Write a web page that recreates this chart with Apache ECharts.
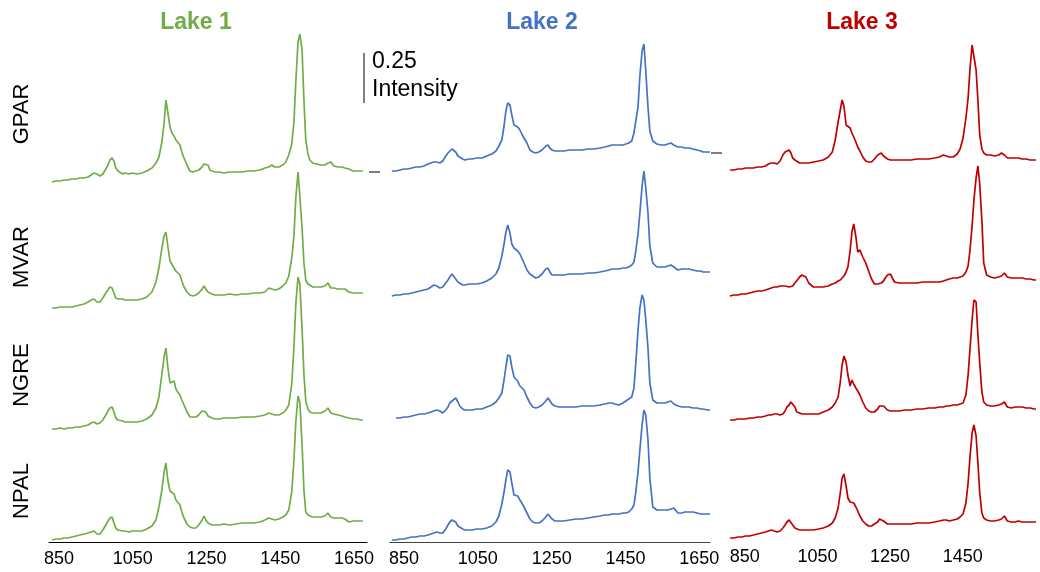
<!DOCTYPE html>
<html><head><meta charset="utf-8">
<script src="https://cdn.jsdelivr.net/npm/echarts@6/dist/echarts.min.js"></script>
<style>html,body{margin:0;padding:0;background:#fff}#c{width:1040px;height:572px}</style>
</head><body><div id="c"></div>
<script>
// ---------------- DATA ----------------
const lakes = ['Lake 1', 'Lake 2', 'Lake 3'];
const species = ['GPAR', 'MVAR', 'NGRE', 'NPAL'];
const xTickLabels = [[850, 1050, 1250, 1450, 1650], [850, 1050, 1250, 1450, 1650], [850, 1050, 1250, 1450]];
const scaleBarValue = 0.25;
const scaleBarText = ['0.25', 'Intensity'];

const wavenumberLake1 = [831,842,853,864,874,885,896,907,918,929,
 937,945,953,961,969,977,983,988,994,999,
 1004,1010,1015,1023,1029,1034,1040,1048,1061,1075,
 1088,1102,1113,1121,1129,1135,1140,1145,1151,1156,
 1162,1167,1172,1178,1183,1189,1197,1205,1213,1221,
 1229,1238,1243,1248,1254,1259,1265,1273,1284,1297,
 1313,1330,1346,1362,1378,1395,1408,1419,1427,1435,
 1446,1457,1465,1473,1481,1487,1492,1498,1503,1509,
 1514,1519,1525,1530,1538,1549,1560,1571,1579,1587,
 1595,1606,1617,1625,1636,1647,1658,1668,1674];
const wavenumberLake2 = [817,828,839,850,860,871,882,893,904,915,
 923,931,939,947,955,963,969,974,980,985,
 990,996,1001,1009,1015,1020,1026,1034,1047,1061,
 1074,1088,1099,1107,1115,1121,1126,1131,1137,1142,
 1148,1153,1158,1164,1169,1175,1183,1191,1199,1207,
 1215,1224,1229,1234,1240,1245,1251,1259,1270,1283,
 1299,1316,1332,1348,1364,1381,1394,1405,1413,1421,
 1432,1443,1451,1459,1467,1473,1478,1484,1489,1495,
 1500,1505,1511,1516,1524,1535,1546,1557,1565,1573,
 1581,1592,1603,1611,1622,1633,1644,1654,1660,
 1665,1673,1679];
const wavenumberLake3 = [809,820,831,842,852,863,874,885,896,907,
 915,923,931,939,947,955,961,966,972,977,
 982,988,993,1001,1007,1012,1018,1026,1039,1053,
 1066,1080,1091,1099,1107,1113,1118,1123,1129,1134,
 1140,1145,1150,1156,1161,1167,1175,1183,1191,1199,
 1207,1216,1221,1226,1232,1237,1243,1251,1262,1275,
 1291,1308,1324,1340,1356,1373,1386,1397,1405,1413,
 1424,1435,1443,1451,1459,1465,1470,1476,1481,1487,
 1492,1497,1503,1508,1516,1527,1538,1549,1557,1565,
 1573,1584,1595,1603,1614,1625,1636,1646,1652];

// Lake 1
const lake1GPAR = [0,0.005,0.005,0.01,0.01,0.015,0.015,0.02,0.02,0.025,
 0.035,0.045,0.04,0.03,0.04,0.065,0.085,0.11,0.12,0.105,
 0.07,0.055,0.045,0.04,0.045,0.04,0.04,0.045,0.04,0.045,
 0.055,0.07,0.095,0.125,0.2,0.295,0.41,0.42,0.275,0.245,
 0.23,0.21,0.2,0.185,0.15,0.12,0.085,0.055,0.05,0.055,
 0.06,0.075,0.09,0.1,0.085,0.06,0.055,0.05,0.05,0.045,
 0.05,0.05,0.05,0.055,0.055,0.06,0.07,0.075,0.085,0.075,
 0.075,0.085,0.1,0.135,0.19,0.3,0.5,0.7,0.74,0.66,
 0.41,0.21,0.14,0.11,0.095,0.09,0.085,0.085,0.095,0.1,
 0.08,0.075,0.075,0.07,0.065,0.055,0.055,0.055,0.055];
const lake1MVAR = [0,0,0.005,0.005,0.005,0.005,0.01,0.015,0.02,0.03,
 0.04,0.045,0.03,0.03,0.05,0.075,0.09,0.105,0.1,0.075,
 0.05,0.045,0.045,0.045,0.04,0.045,0.04,0.04,0.04,0.045,
 0.055,0.08,0.13,0.2,0.3,0.36,0.38,0.31,0.235,0.23,
 0.2,0.185,0.175,0.165,0.135,0.105,0.08,0.065,0.06,0.065,
 0.075,0.095,0.11,0.095,0.08,0.075,0.07,0.065,0.065,0.065,
 0.07,0.065,0.07,0.07,0.075,0.075,0.08,0.1,0.095,0.09,
 0.095,0.11,0.125,0.16,0.25,0.36,0.55,0.68,0.56,0.4,
 0.225,0.14,0.12,0.11,0.105,0.105,0.105,0.11,0.125,0.1,
 0.1,0.095,0.095,0.095,0.08,0.075,0.075,0.075,0.075];
const lake1NGRE = [0,0,0.005,0,0.005,0.005,0.01,0.01,0.015,0.02,
 0.03,0.035,0.025,0.03,0.045,0.07,0.09,0.105,0.11,0.085,
 0.055,0.045,0.04,0.04,0.035,0.035,0.035,0.035,0.035,0.04,
 0.05,0.07,0.105,0.16,0.275,0.36,0.405,0.31,0.23,0.24,
 0.24,0.2,0.185,0.17,0.145,0.12,0.085,0.06,0.06,0.06,
 0.07,0.09,0.1,0.085,0.065,0.06,0.055,0.05,0.05,0.055,
 0.055,0.055,0.06,0.06,0.06,0.065,0.07,0.08,0.075,0.07,
 0.07,0.08,0.095,0.12,0.225,0.41,0.625,0.76,0.725,0.5,
 0.275,0.14,0.1,0.085,0.08,0.08,0.08,0.09,0.105,0.08,
 0.075,0.07,0.065,0.06,0.055,0.05,0.05,0.045,0.045];
const lake1NPAL = [0,0.005,0.005,0.01,0.01,0.015,0.02,0.025,0.03,0.035,
 0.04,0.045,0.03,0.03,0.05,0.075,0.095,0.11,0.115,0.085,
 0.06,0.05,0.045,0.045,0.045,0.045,0.04,0.045,0.045,0.045,
 0.055,0.07,0.1,0.165,0.25,0.34,0.385,0.3,0.245,0.25,
 0.23,0.2,0.19,0.175,0.14,0.11,0.08,0.065,0.06,0.06,
 0.075,0.1,0.12,0.1,0.085,0.08,0.075,0.075,0.075,0.08,
 0.075,0.08,0.085,0.085,0.085,0.09,0.1,0.11,0.105,0.1,
 0.105,0.115,0.125,0.15,0.24,0.4,0.59,0.72,0.69,0.475,
 0.25,0.14,0.125,0.115,0.115,0.115,0.115,0.12,0.135,0.115,
 0.11,0.11,0.11,0.105,0.09,0.095,0.095,0.095,0.095];

// Lake 2
const lake2GPAR = [0,0,0.005,0.01,0.01,0.015,0.02,0.02,0.025,0.035,
 0.04,0.045,0.045,0.04,0.05,0.075,0.09,0.1,0.11,0.11,
 0.095,0.075,0.07,0.06,0.055,0.06,0.06,0.06,0.065,0.065,
 0.075,0.085,0.1,0.125,0.155,0.225,0.3,0.34,0.33,0.28,
 0.23,0.235,0.22,0.205,0.185,0.165,0.14,0.105,0.095,0.09,
 0.095,0.105,0.115,0.125,0.13,0.115,0.105,0.1,0.1,0.1,
 0.105,0.105,0.105,0.11,0.11,0.115,0.12,0.125,0.13,0.13,
 0.13,0.13,0.135,0.14,0.15,0.19,0.25,0.32,0.475,0.6,
 0.635,0.5,0.32,0.2,0.15,0.135,0.13,0.13,0.135,0.14,
 0.13,0.12,0.12,0.115,0.115,0.11,0.105,0.1,0.095,
 0.095,0.095,0.095];
const lake2MVAR = [0,0.005,0.005,0.01,0.01,0.015,0.02,0.025,0.03,0.035,
 0.045,0.055,0.05,0.04,0.045,0.065,0.08,0.095,0.11,0.11,
 0.085,0.07,0.065,0.055,0.055,0.055,0.06,0.06,0.06,0.065,
 0.075,0.09,0.11,0.14,0.2,0.26,0.32,0.355,0.315,0.26,
 0.24,0.245,0.225,0.21,0.19,0.165,0.13,0.11,0.1,0.09,
 0.095,0.11,0.12,0.135,0.14,0.12,0.105,0.105,0.105,0.105,
 0.11,0.11,0.11,0.115,0.115,0.12,0.125,0.13,0.135,0.135,
 0.135,0.14,0.14,0.145,0.155,0.17,0.225,0.31,0.415,0.55,
 0.625,0.54,0.415,0.25,0.165,0.145,0.145,0.145,0.15,0.155,
 0.145,0.13,0.135,0.135,0.135,0.13,0.125,0.125,0.12,
 0.12,0.12,0.12];
const lake2NGRE = [null,0,0,0.005,0.005,0.01,0.015,0.02,0.02,0.025,
 0.03,0.035,0.04,0.035,0.025,0.04,0.055,0.075,0.085,0.095,
 0.1,0.08,0.06,0.045,0.04,0.035,0.04,0.04,0.045,0.045,
 0.055,0.065,0.08,0.1,0.125,0.19,0.255,0.315,0.31,0.255,
 0.205,0.21,0.185,0.16,0.155,0.14,0.105,0.075,0.055,0.05,
 0.055,0.065,0.075,0.085,0.1,0.09,0.07,0.06,0.055,0.055,
 0.055,0.055,0.06,0.06,0.06,0.065,0.07,0.075,0.075,0.07,
 0.065,0.075,0.085,0.095,0.105,0.15,0.275,0.44,0.55,0.615,
 0.59,0.49,0.35,0.175,0.09,0.075,0.075,0.075,0.08,0.085,
 0.07,0.06,0.055,0.055,0.055,0.05,0.05,0.045,0.045,
 0.04,0.04,0.04];
const lake2NPAL = [0,0,0.005,0.005,0.01,0.015,0.015,0.02,0.02,0.025,
 0.03,0.035,0.04,0.035,0.035,0.055,0.075,0.09,0.1,0.11,
 0.09,0.07,0.06,0.055,0.05,0.05,0.05,0.05,0.055,0.055,
 0.06,0.07,0.09,0.12,0.18,0.24,0.3,0.35,0.34,0.285,
 0.225,0.23,0.22,0.2,0.185,0.165,0.135,0.105,0.09,0.085,
 0.085,0.095,0.105,0.115,0.13,0.12,0.105,0.095,0.095,0.095,
 0.1,0.105,0.105,0.11,0.115,0.12,0.125,0.125,0.13,0.13,
 0.13,0.135,0.135,0.14,0.155,0.175,0.24,0.34,0.45,0.575,
 0.65,0.625,0.5,0.31,0.165,0.15,0.15,0.15,0.15,0.155,
 0.16,0.135,0.135,0.14,0.14,0.14,0.135,0.13,0.13,
 0.13,0.13,0.13];

// Lake 3
const lake3GPAR = [0,0,0.005,0.005,0.01,0.01,0.01,0.015,0.015,0.02,
 0.03,0.035,0.035,0.03,0.045,0.075,0.09,0.1,0.1,0.085,
 0.06,0.05,0.04,0.035,0.035,0.035,0.035,0.035,0.04,0.045,
 0.05,0.065,0.09,0.15,0.24,0.3,0.35,0.32,0.225,0.215,
 0.21,0.185,0.165,0.14,0.115,0.095,0.065,0.045,0.04,0.04,
 0.055,0.075,0.085,0.085,0.07,0.06,0.055,0.05,0.05,0.05,
 0.05,0.05,0.055,0.055,0.055,0.06,0.065,0.075,0.07,0.065,
 0.065,0.08,0.105,0.16,0.26,0.36,0.5,0.625,0.63,0.5,
 0.35,0.175,0.105,0.085,0.075,0.075,0.07,0.075,0.085,0.075,
 0.06,0.06,0.06,0.06,0.055,0.055,0.05,0.05,0.05];
const lake3MVAR = [0,0.005,0.005,0.01,0.01,0.015,0.02,0.025,0.025,0.03,
 0.035,0.04,0.045,0.045,0.05,0.05,0.05,0.05,0.045,0.045,
 0.05,0.065,0.075,0.095,0.105,0.11,0.095,0.065,0.045,0.045,
 0.045,0.05,0.06,0.065,0.075,0.08,0.085,0.1,0.12,0.145,
 0.225,0.32,0.36,0.295,0.22,0.23,0.195,0.165,0.125,0.085,
 0.06,0.06,0.065,0.065,0.075,0.09,0.105,0.11,0.07,0.065,
 0.065,0.065,0.065,0.07,0.07,0.07,0.07,0.075,0.08,0.085,
 0.09,0.09,0.095,0.1,0.12,0.15,0.225,0.35,0.48,0.59,
 0.65,0.56,0.375,0.165,0.105,0.095,0.09,0.095,0.1,0.115,
 0.095,0.09,0.09,0.09,0.09,0.085,0.085,0.08,0.08];
const lake3NGRE = [0,0,0.005,0.005,0.005,0.01,0.01,0.015,0.015,0.02,
 0.025,0.025,0.03,0.03,0.025,0.03,0.045,0.065,0.075,0.09,
 0.09,0.065,0.04,0.035,0.03,0.03,0.03,0.03,0.03,0.03,
 0.04,0.05,0.065,0.085,0.115,0.19,0.275,0.32,0.29,0.225,
 0.17,0.2,0.18,0.16,0.145,0.125,0.09,0.06,0.045,0.04,
 0.04,0.055,0.07,0.08,0.07,0.06,0.05,0.045,0.045,0.045,
 0.05,0.05,0.055,0.055,0.06,0.06,0.065,0.065,0.07,0.07,
 0.075,0.075,0.08,0.085,0.125,0.225,0.35,0.5,0.6,0.59,
 0.425,0.285,0.14,0.09,0.075,0.07,0.07,0.075,0.08,0.09,
 0.065,0.06,0.065,0.065,0.065,0.06,0.06,0.055,0.055];
const lake3NPAL = [0,0,0.005,0.005,0.01,0.01,0.015,0.02,0.025,0.03,
 0.035,0.04,0.035,0.03,0.035,0.05,0.065,0.08,0.09,0.085,
 0.065,0.05,0.04,0.04,0.04,0.04,0.04,0.04,0.04,0.045,
 0.05,0.06,0.075,0.1,0.15,0.225,0.3,0.32,0.26,0.2,
 0.18,0.19,0.175,0.155,0.135,0.11,0.085,0.07,0.06,0.06,
 0.07,0.08,0.095,0.1,0.085,0.075,0.07,0.07,0.07,0.07,
 0.07,0.07,0.075,0.075,0.075,0.08,0.085,0.09,0.09,0.085,
 0.09,0.095,0.105,0.12,0.175,0.275,0.4,0.525,0.565,0.51,
 0.375,0.225,0.125,0.1,0.09,0.085,0.085,0.09,0.095,0.11,
 0.085,0.08,0.08,0.085,0.08,0.08,0.08,0.08,0.08];

const wavenumbers = [wavenumberLake1, wavenumberLake2, wavenumberLake3];
const intensities = [
  [lake1GPAR, lake1MVAR, lake1NGRE, lake1NPAL],
  [lake2GPAR, lake2MVAR, lake2NGRE, lake2NPAL],
  [lake3GPAR, lake3MVAR, lake3NGRE, lake3NPAL]
];

// ---------------- LAYOUT / STYLE ----------------
const colors = ['#70AD47', '#4472C4', '#C00000'];
const panelLeft = [49, 390, 727];
const panelWidth = [318, 320, 318];
const panelXMin = [823, 812, 801];
const panelXMax = [1685, 1679, 1663];
const axisColors = ['#000000', '#404040', '#404040'];
const showAxisLine = [true, true, false];
const baselines = [[182, 308, 429, 540], [171, 296, 418, 540], [170, 296, 420, 538]];
const pxPerUnit = 200;
const yMin = -0.01, yMax = 0.8;
const FONT = "'Liberation Sans', Arial, sans-serif";

const grids = [], xAxes = [], yAxes = [], series = [];
for (let p = 0; p < 3; p++) {
  for (let s = 0; s < 4; s++) {
    const idx = grids.length;
    const base = baselines[p][s];
    const bottomPx = base + (0 - yMin) * pxPerUnit;
    const h = (yMax - yMin) * pxPerUnit;
    grids.push({ left: panelLeft[p], width: panelWidth[p], top: bottomPx - h, height: h, containLabel: false });
    const isBottom = s === 3;
    xAxes.push({
      type: 'value', gridIndex: idx, min: panelXMin[p], max: panelXMax[p],
      show: isBottom,
      splitLine: { show: false },
      axisTick: { show: false },
      axisLine: { show: showAxisLine[p], onZero: false, lineStyle: { color: axisColors[p], width: 1.2 } },
      axisLabel: { show: true, customValues: xTickLabels[p], formatter: v => String(v), color: '#000', fontSize: 18, fontFamily: FONT, margin: 8 }
    });
    yAxes.push({ type: 'value', gridIndex: idx, min: yMin, max: yMax, show: false, splitLine: { show: false } });
    const wn = wavenumbers[p];
    const vals = intensities[p][s];
    const data = [];
    for (let i = 0; i < wn.length; i++) { if (vals[i] !== null) data.push([wn[i], vals[i]]); }
    series.push({
      type: 'line', name: lakes[p] + ' ' + species[s], xAxisIndex: idx, yAxisIndex: idx,
      data: data, showSymbol: false, symbol: 'none', clip: false, silent: true,
      lineStyle: { color: colors[p], width: 1.7 }, z: 2
    });
  }
}

const titleX = [196, 542, 862];
const speciesY = [114, 257, 375, 491];
const graphic = [];
lakes.forEach((t, i) => graphic.push({
  type: 'text', x: titleX[i], y: 23,
  style: { text: t, fill: colors[i], fontSize: 23, fontWeight: 'bold', fontFamily: FONT, textAlign: 'center', textVerticalAlign: 'middle' }
}));
species.forEach((t, i) => graphic.push({
  type: 'text', x: 22, y: speciesY[i], rotation: Math.PI / 2,
  style: { text: t, fill: '#000', fontSize: 22, fontFamily: FONT, textAlign: 'center', textVerticalAlign: 'middle' }
}));
// scale bar
graphic.push({ type: 'line', shape: { x1: 364, y1: 53, x2: 364, y2: 53 + scaleBarValue * pxPerUnit }, style: { stroke: '#000', lineWidth: 1 } });
graphic.push({ type: 'text', x: 372, y: 62, style: { text: scaleBarText[0], fill: '#000', fontSize: 23, fontFamily: FONT, textVerticalAlign: 'middle' } });
graphic.push({ type: 'text', x: 372, y: 90, style: { text: scaleBarText[1], fill: '#000', fontSize: 23, fontFamily: FONT, textVerticalAlign: 'middle' } });
// small grey marks at panel edges
graphic.push({ type: 'line', shape: { x1: 369, y1: 172, x2: 380, y2: 172 }, style: { stroke: '#7f7f7f', lineWidth: 2 } });
graphic.push({ type: 'line', shape: { x1: 711, y1: 153, x2: 722, y2: 153 }, style: { stroke: '#7f7f7f', lineWidth: 2 } });

const chart = echarts.init(document.getElementById('c'), null, { renderer: 'canvas' });
chart.setOption({
  animation: false,
  backgroundColor: '#ffffff',
  grid: grids, xAxis: xAxes, yAxis: yAxes, series: series,
  graphic: graphic
});
</script></body></html>
